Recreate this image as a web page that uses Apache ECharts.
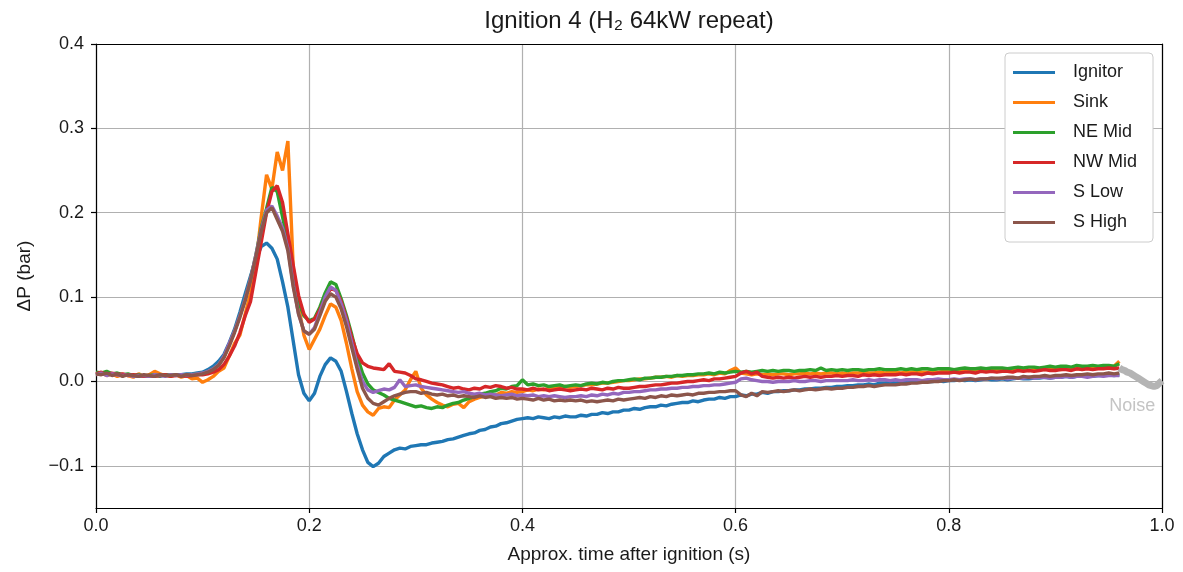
<!DOCTYPE html>
<html>
<head>
<meta charset="utf-8">
<script src="https://cdn.jsdelivr.net/npm/echarts@6/dist/echarts.min.js"></script>
<style>
  html, body { margin: 0; padding: 0; background: #fff; }
  #chart { width: 1183px; height: 572px; }
</style>
</head>
<body>
<div id="chart"></div>
<script>
// Pressure transients after ignition, one reading every 5 ms from t = 0 s
const sampleTimeStep = 0.005;
const seriesNames = ['Ignitor', 'Sink', 'NE Mid', 'NW Mid', 'S Low', 'S High'];
const seriesColors = ['#1f77b4', '#ff7f0e', '#2ca02c', '#d62728', '#9467bd', '#8c564b'];
const yTickValues = [-0.1, 0, 0.1, 0.2, 0.3, 0.4];

// ΔP (bar)
const ignitor = [
  .010,.009,.011,.008,.009,.007,.008,.006,.006,.007,
  .006,.007,.007,.008,.007,.008,.008,.009,.009,.010,
  .011,.014,.018,.024,.032,.046,.062,.082,.104,.125,
  .145,.160,.164,.158,.145,.118,.088,.048,.008,-.014,
  -.023,-.014,.006,.020,.028,.024,.012,-.012,-.038,-.062,
  -.081,-.096,-.101,-.097,-.089,-.085,-.081,-.079,-.080,-.077,
  -.076,-.075,-.075,-.073,-.072,-.071,-.069,-.068,-.066,-.064,
  -.062,-.061,-.058,-.057,-.054,-.053,-.050,-.049,-.047,-.045,
  -.044,-.043,-.044,-.042,-.043,-.044,-.042,-.043,-.041,-.042,
  -.042,-.040,-.041,-.039,-.039,-.037,-.038,-.036,-.036,-.034,
  -.034,-.032,-.033,-.031,-.030,-.030,-.028,-.029,-.027,-.026,
  -.025,-.025,-.023,-.024,-.022,-.021,-.021,-.019,-.020,-.018,
  -.018,-.016,-.017,-.015,-.015,-.013,-.014,-.012,-.012,-.011,
  -.011,-.010,-.010,-.009,-.009,-.008,-.008,-.007,-.007,-.006,
  -.006,-.005,-.005,-.004,-.004,-.003,-.004,-.002,-.002,-.001,
  -.002,-.001,.000,-.001,.000,.001,.000,.000,.001,.000,
  .001,.001,.002,.001,.002,.001,.002,.003,.002,.002,
  .003,.002,.003,.004,.003,.003,.004,.004,.005,.004,
  .005,.005,.006,.005,.006,.006,.007,.006,.007,.007,
  .008,.007,.008
];
const sink = [
  .008,.010,.007,.009,.006,.008,.007,.005,.009,.006,
  .008,.012,.009,.007,.006,.008,.005,.007,.003,.004,
  -.001,.002,.006,.012,.016,.030,.045,.055,.080,.105,
  .140,.195,.245,.228,.272,.250,.285,.135,.090,.055,
  .038,.050,.062,.078,.092,.088,.072,.045,.015,-.012,
  -.028,-.036,-.040,-.032,-.030,-.031,-.022,-.016,-.010,.002,
  .012,-.008,-.016,-.021,-.025,-.028,-.030,-.027,-.026,-.031,
  -.024,-.021,-.019,-.017,-.015,-.016,-.013,-.014,-.012,-.013,
  -.012,-.010,-.011,-.009,-.010,-.008,-.008,-.007,-.006,-.007,
  -.006,-.005,-.004,-.004,-.003,-.002,-.002,-.001,.000,.001,
  .001,.002,.003,.003,.004,.005,.005,.006,.005,.007,
  .006,.007,.007,.008,.008,.009,.008,.010,.009,.013,
  .016,.010,.009,.008,.009,.008,.009,.008,.009,.009,
  .008,.009,.009,.010,.009,.010,.009,.010,.010,.009,
  .010,.009,.010,.010,.011,.010,.010,.011,.010,.011,
  .011,.010,.011,.011,.012,.011,.011,.012,.011,.012,
  .012,.011,.012,.012,.013,.012,.013,.012,.013,.013,
  .013,.014,.013,.014,.014,.013,.014,.015,.014,.015,
  .015,.014,.015,.016,.015,.016,.016,.015,.016,.017,
  .017,.018,.024
];
const neMid = [
  .011,.010,.012,.009,.010,.008,.009,.007,.008,.006,
  .007,.008,.006,.008,.007,.008,.007,.008,.008,.009,
  .010,.012,.015,.020,.029,.044,.060,.078,.098,.122,
  .150,.182,.205,.230,.225,.195,.165,.125,.095,.078,
  .072,.075,.088,.105,.118,.115,.098,.078,.055,.030,
  .010,-.003,-.010,-.013,-.016,-.020,-.022,-.024,-.026,-.028,
  -.030,-.029,-.031,-.032,-.030,-.031,-.028,-.026,-.025,-.022,
  -.020,-.018,-.015,-.014,-.012,-.011,-.008,-.009,-.006,-.005,
  .002,-.004,-.003,-.005,-.004,-.006,-.005,-.004,-.006,-.005,
  -.004,-.005,-.003,-.002,-.003,-.001,-.002,.000,.001,.001,
  .002,.003,.002,.004,.004,.005,.005,.006,.006,.007,
  .007,.008,.008,.009,.009,.010,.009,.011,.010,.011,
  .012,.011,.012,.011,.012,.013,.012,.013,.012,.013,
  .013,.012,.013,.013,.014,.013,.016,.013,.014,.013,
  .014,.013,.014,.014,.013,.014,.014,.015,.014,.014,
  .014,.015,.014,.015,.014,.015,.015,.014,.015,.015,
  .015,.014,.015,.016,.015,.015,.016,.015,.016,.016,
  .016,.015,.016,.017,.016,.017,.017,.016,.017,.018,
  .017,.018,.018,.017,.019,.018,.018,.019,.018,.019,
  .019,.018,.021
];
const nwMid = [
  .009,.011,.008,.010,.008,.009,.007,.008,.007,.006,
  .007,.006,.007,.008,.006,.007,.007,.006,.007,.008,
  .008,.009,.011,.014,.020,.030,.042,.058,.078,.095,
  .130,.165,.200,.225,.232,.212,.175,.138,.102,.080,
  .070,.074,.085,.098,.110,.108,.095,.075,.052,.033,
  .022,.018,.016,.015,.014,.021,.012,.011,.010,.007,
  .003,.002,.000,-.002,-.003,-.004,-.006,-.008,-.007,-.009,
  -.010,-.008,-.009,-.006,-.007,-.005,-.006,-.008,-.007,-.009,
  -.009,-.010,-.008,-.010,-.009,-.011,-.010,-.009,-.010,-.011,
  -.010,-.009,-.010,-.008,-.009,-.010,-.008,-.009,-.007,-.008,
  -.008,-.007,-.006,-.006,-.005,-.004,-.004,-.003,-.002,-.002,
  -.001,.000,.000,.001,.002,.001,.003,.003,.004,.005,
  .006,.010,.012,.009,.011,.006,.005,.004,.005,.004,
  .005,.004,.005,.006,.005,.006,.005,.006,.006,.007,
  .006,.007,.007,.006,.008,.007,.008,.007,.008,.008,
  .008,.009,.008,.009,.009,.008,.010,.009,.010,.010,
  .010,.011,.010,.011,.011,.010,.012,.011,.012,.011,
  .012,.012,.011,.013,.012,.013,.012,.013,.014,.013,
  .013,.014,.014,.013,.015,.014,.015,.014,.015,.015,
  .016,.015,.016
];
const sLow = [
  .008,.010,.007,.009,.008,.007,.008,.006,.007,.007,
  .006,.008,.007,.006,.008,.007,.008,.007,.008,.009,
  .010,.012,.015,.020,.030,.045,.060,.078,.098,.122,
  .150,.180,.203,.208,.196,.182,.158,.115,.080,.060,
  .056,.064,.082,.100,.112,.108,.092,.072,.045,.020,
  .000,-.010,-.013,-.011,-.009,-.010,-.007,.002,-.006,-.005,
  -.004,-.006,-.007,-.008,-.009,-.010,-.011,-.012,-.013,-.012,
  -.014,-.015,-.014,-.016,-.015,-.016,-.017,-.016,-.015,-.017,
  -.016,-.017,-.016,-.018,-.017,-.018,-.017,-.018,-.019,-.018,
  -.018,-.017,-.018,-.016,-.017,-.015,-.016,-.014,-.015,-.013,
  -.013,-.012,-.012,-.011,-.010,-.010,-.009,-.009,-.008,-.008,
  -.007,-.007,-.006,-.006,-.005,-.005,-.004,-.004,-.003,-.002,
  -.001,.003,.004,.002,.001,.000,.000,-.001,.000,.000,
  .000,.001,.000,.000,.001,.001,.000,.001,.001,.001,
  .001,.001,.002,.001,.001,.002,.001,.002,.002,.001,
  .002,.001,.002,.002,.002,.001,.002,.002,.003,.002,
  .002,.003,.002,.003,.003,.002,.003,.003,.004,.003,
  .004,.003,.004,.004,.004,.005,.004,.005,.005,.004,
  .005,.005,.006,.005,.006,.006,.005,.006,.007,.006,
  .007,.007,.007
];
const sHigh = [
  .009,.008,.010,.007,.009,.006,.008,.007,.006,.008,
  .007,.006,.008,.007,.007,.008,.006,.008,.007,.008,
  .009,.011,.014,.019,.028,.042,.058,.076,.096,.120,
  .148,.178,.200,.206,.192,.178,.155,.112,.080,.060,
  .056,.062,.078,.095,.104,.100,.086,.065,.040,.015,
  -.008,-.020,-.026,-.028,-.024,-.020,-.017,-.015,-.013,-.012,
  -.012,-.014,-.013,-.015,-.016,-.015,-.017,-.016,-.018,-.017,
  -.018,-.019,-.017,-.019,-.018,-.020,-.019,-.020,-.019,-.021,
  -.020,-.021,-.022,-.020,-.022,-.021,-.023,-.022,-.023,-.022,
  -.023,-.022,-.024,-.023,-.024,-.023,-.022,-.023,-.021,-.022,
  -.021,-.020,-.019,-.020,-.018,-.019,-.017,-.018,-.016,-.017,
  -.016,-.015,-.016,-.014,-.014,-.013,-.013,-.012,-.012,-.011,
  -.011,-.016,-.018,-.014,-.017,-.012,-.013,-.012,-.011,-.012,
  -.011,-.010,-.011,-.010,-.009,-.010,-.009,-.008,-.009,-.008,
  -.008,-.007,-.007,-.006,-.006,-.005,-.006,-.005,-.004,-.004,
  -.004,-.003,-.003,-.002,-.002,-.001,-.001,.000,.000,.001,
  .001,.002,.001,.002,.003,.002,.003,.003,.004,.004,
  .004,.005,.005,.004,.006,.005,.006,.006,.007,.006,
  .007,.007,.008,.007,.008,.008,.009,.008,.009,.009,
  .010,.009,.010
];

// Tail of the record treated as noise
const noiseTime = [0.96,0.9625,0.965,0.9675,0.97,0.9725,0.975,0.9775,0.98,0.9825,0.985,0.9875,0.99,0.9925,0.995,0.9975,1.0];
const noise = [.016,.014,.013,.011,.010,.008,.006,.004,.002,.000,-.002,-.004,-.005,-.006,-.005,-.002,.001];

const signals = [ignitor, sink, neMid, nwMid, sLow, sHigh];
const FONT = '"Liberation Sans", Arial, Helvetica, sans-serif';
const INK = '#1a1a1a';

const toPairs = (vals) => vals.map((v, i) => [+(i * sampleTimeStep).toFixed(4), v]);

const lineSeries = signals.map((vals, k) => ({
  name: seriesNames[k],
  type: 'line',
  xAxisIndex: 0,
  yAxisIndex: 0,
  data: toPairs(vals),
  showSymbol: false,
  symbol: 'none',
  color: seriesColors[k],
  lineStyle: { width: 3.4, color: seriesColors[k] },
  emphasis: { disabled: true },
  z: 3 + k
}));

lineSeries.push({
  name: 'Noise',
  type: 'line',
  xAxisIndex: 0,
  yAxisIndex: 0,
  data: noiseTime.map((t, i) => [t, noise[i]]),
  showSymbol: false,
  symbol: 'none',
  color: '#b4b4b4',
  lineStyle: { width: 7, color: '#b4b4b4' },
  emphasis: { disabled: true },
  z: 10,
  markPoint: {
    symbol: 'circle',
    symbolSize: 1,
    itemStyle: { color: 'rgba(0,0,0,0)' },
    label: {
      show: true, position: 'inside', formatter: 'Noise',
      color: '#c4c4c4', fontSize: 18, fontFamily: FONT
    },
    data: [{ coord: [0.972, -0.029] }]
  }
});

const frameLine = { show: true, onZero: false, lineStyle: { color: '#000', width: 1.2 } };

const chart = echarts.init(document.getElementById('chart'), null, { renderer: 'canvas' });
chart.setOption({
  animation: false,
  backgroundColor: '#ffffff',
  textStyle: { fontFamily: FONT },
  grid: { left: 96, right: 21, top: 44, bottom: 64 },
  legend: {
    data: seriesNames,
    orient: 'vertical',
    right: 30,
    top: 53,
    icon: 'rect',
    itemWidth: 42,
    itemHeight: 3,
    itemGap: 11,
    padding: [10, 16, 10, 8],
    backgroundColor: '#fff',
    borderColor: '#cccccc',
    borderWidth: 1,
    borderRadius: 4,
    z: 20,
    textStyle: { fontSize: 18, color: INK, fontFamily: FONT, padding: [0, 0, 0, 13], lineHeight: 19 }
  },
  xAxis: [{
    type: 'value', min: 0, max: 1, interval: 0.2,
    name: 'Approx. time after ignition (s)',
    nameLocation: 'middle', nameGap: 37,
    nameTextStyle: { fontSize: 19, color: INK, fontFamily: FONT },
    axisLine: frameLine,
    axisTick: { show: true, length: 5, lineStyle: { color: '#000', width: 1.2 } },
    axisLabel: { fontSize: 18, color: INK, margin: 9, formatter: (v) => v.toFixed(1) },
    splitLine: { show: true, lineStyle: { color: '#b0b0b0', width: 1.2 } }
  }, {
    // top frame edge; its name is the chart title, centred over the plot
    type: 'value', min: 0, max: 1, position: 'top',
    name: 'Ignition 4 (H\u2082 64kW repeat)',
    nameLocation: 'middle', nameGap: 11,
    nameTextStyle: { fontSize: 24, color: INK, fontFamily: FONT },
    axisLine: frameLine, axisTick: { show: false },
    axisLabel: { show: false }, splitLine: { show: false }
  }],
  yAxis: [{
    type: 'value', min: -0.15, max: 0.4,
    name: '\u0394P (bar)',
    nameLocation: 'middle', nameGap: 62,
    nameTextStyle: { fontSize: 19, color: INK, fontFamily: FONT },
    axisLine: frameLine,
    axisTick: { show: true, length: 5, customValues: yTickValues, lineStyle: { color: '#000', width: 1.2 } },
    axisLabel: {
      fontSize: 18, color: INK, margin: 12, customValues: yTickValues,
      formatter: (v) => (Math.abs(v) < 1e-9 ? 0 : v).toFixed(1).replace('-', '\u2212')
    },
    splitLine: { show: true, lineStyle: { color: '#b0b0b0', width: 1.2 } }
  }, {
    // right frame edge
    type: 'value', min: -0.15, max: 0.4, position: 'right',
    axisLine: frameLine, axisTick: { show: false },
    axisLabel: { show: false }, splitLine: { show: false }
  }],
  series: lineSeries
});
</script>
</body>
</html>
